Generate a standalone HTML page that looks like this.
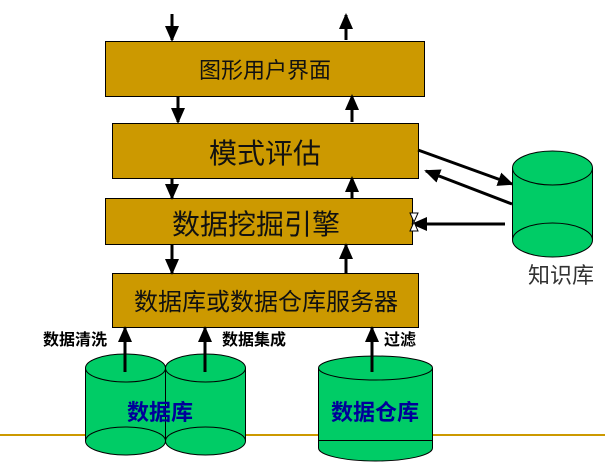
<!DOCTYPE html>
<html><head><meta charset="utf-8"><style>
html,body{margin:0;padding:0;background:#fff;}
svg{display:block;}
text{font-family:"Liberation Sans","Noto Sans CJK SC","WenQuanYi Zen Hei",sans-serif;}
</style></head><body>
<svg width="605" height="469" viewBox="0 0 605 469" xmlns="http://www.w3.org/2000/svg">
<defs>
<marker id="ah" markerWidth="10" markerHeight="10" refX="8" refY="5" orient="auto" markerUnits="userSpaceOnUse">
<path d="M0,0 L10,5 L0,10 z" fill="#000"/>
</marker>
<marker id="ah2" markerWidth="16" markerHeight="14" refX="14" refY="7" orient="auto" markerUnits="userSpaceOnUse">
<path d="M0,0 L16,7 L0,14 z" fill="#000"/>
</marker>
</defs>
<line x1="0" y1="435" x2="605" y2="435" stroke="#CC9900" stroke-width="2"/>

<!-- boxes -->
<rect x="105.5" y="41.5" width="319" height="55" fill="#CC9900" stroke="#000"/>
<text x="265" y="78" font-size="22" text-anchor="middle" fill="#111">图形用户界面</text>
<rect x="112.5" y="123.5" width="306" height="55" fill="#CC9900" stroke="#000"/>
<text x="265" y="163" font-size="28" text-anchor="middle" fill="#111">模式评估</text>
<rect x="105.5" y="198.5" width="307" height="46" fill="#CC9900" stroke="#000"/>
<text x="256" y="234" font-size="28" text-anchor="middle" fill="#111">数据挖掘引擎</text>
<rect x="112.5" y="273.5" width="306" height="54" fill="#CC9900" stroke="#000"/>
<text x="266" y="310" font-size="24" text-anchor="middle" fill="#111">数据库或数据仓库服务器</text>

<!-- vertical arrows -->
<g stroke="#000" stroke-width="3" marker-end="url(#ah2)">
<line x1="172" y1="14" x2="172" y2="40"/>
<line x1="346" y1="40" x2="346" y2="15"/>
<line x1="178" y1="96" x2="178" y2="122"/>
<line x1="352" y1="122" x2="352" y2="96"/>
<line x1="172" y1="178" x2="172" y2="198"/>
<line x1="352" y1="198" x2="352" y2="178"/>
<line x1="172" y1="245" x2="172" y2="273"/>
<line x1="346" y1="273" x2="346" y2="245"/>
<line x1="125" y1="372" x2="125" y2="328"/>
<line x1="205" y1="372" x2="205" y2="328"/>
<line x1="372" y1="372" x2="372" y2="328"/>
<line x1="418" y1="150" x2="512" y2="184"/>
<line x1="512" y1="204" x2="426" y2="171"/>
<line x1="505" y1="224" x2="413" y2="224"/>
</g>
<!-- hourglass -->
<path d="M410,213 L418,213 L414,222 L418,231 L410,231 L414,222 z" fill="#fff" stroke="#000"/>

<!-- knowledge base cylinder -->
<path d="M512.5,168 L512.5,240 A40,17 0 0 0 592.5,240 L592.5,168" fill="#00CC66" stroke="#000"/>
<ellipse cx="552.5" cy="168" rx="40" ry="17" fill="#00CC66" stroke="#000"/>
<path d="M512.5,240 A40,17 0 0 1 592.5,240" fill="none" stroke="#000"/>
<text x="561" y="283" font-size="22" text-anchor="middle" fill="#333">知识库</text>

<!-- labels -->
<text x="75" y="345" font-size="16" font-weight="bold" text-anchor="middle" fill="#000">数据清洗</text>
<text x="254" y="345" font-size="16" font-weight="bold" text-anchor="middle" fill="#000">数据集成</text>
<text x="400" y="345" font-size="16" font-weight="bold" text-anchor="middle" fill="#000">过滤</text>

<!-- db cylinders -->
<path d="M85.5,368 L85.5,441 A40,14 0 0 0 165.5,441 L165.5,368" fill="#00CC66" stroke="#000"/>
<ellipse cx="125.5" cy="368" rx="40" ry="14" fill="#00CC66" stroke="#000"/>
<path d="M85.5,441 A40,14 0 0 1 165.5,441" fill="none" stroke="#000"/>
<path d="M165.5,368 L165.5,441 A40,14 0 0 0 245.5,441 L245.5,368" fill="#00CC66" stroke="#000"/>
<ellipse cx="205.5" cy="368" rx="40" ry="14" fill="#00CC66" stroke="#000"/>
<path d="M165.5,441 A40,14 0 0 1 245.5,441" fill="none" stroke="#000"/>
<text x="160" y="420" font-size="22" font-weight="bold" text-anchor="middle" fill="#000099">数据库</text>

<!-- warehouse -->
<path d="M318.5,368 L318.5,448 A57,13 0 0 0 432.5,448 L432.5,368" fill="#00CC66" stroke="#000"/>
<ellipse cx="375.5" cy="368" rx="57" ry="12" fill="#00CC66" stroke="#000"/>
<line x1="318.5" y1="440.5" x2="432.5" y2="440.5" stroke="#000"/>
<text x="375" y="420" font-size="22" font-weight="bold" text-anchor="middle" fill="#000099">数据仓库</text>

<!-- redraw arrows over cylinders -->
<g stroke="#000" stroke-width="3">
<line x1="125" y1="372" x2="125" y2="338"/>
<line x1="205" y1="372" x2="205" y2="338"/>
<line x1="372" y1="372" x2="372" y2="338"/>
</g>
</svg>
</body></html>
